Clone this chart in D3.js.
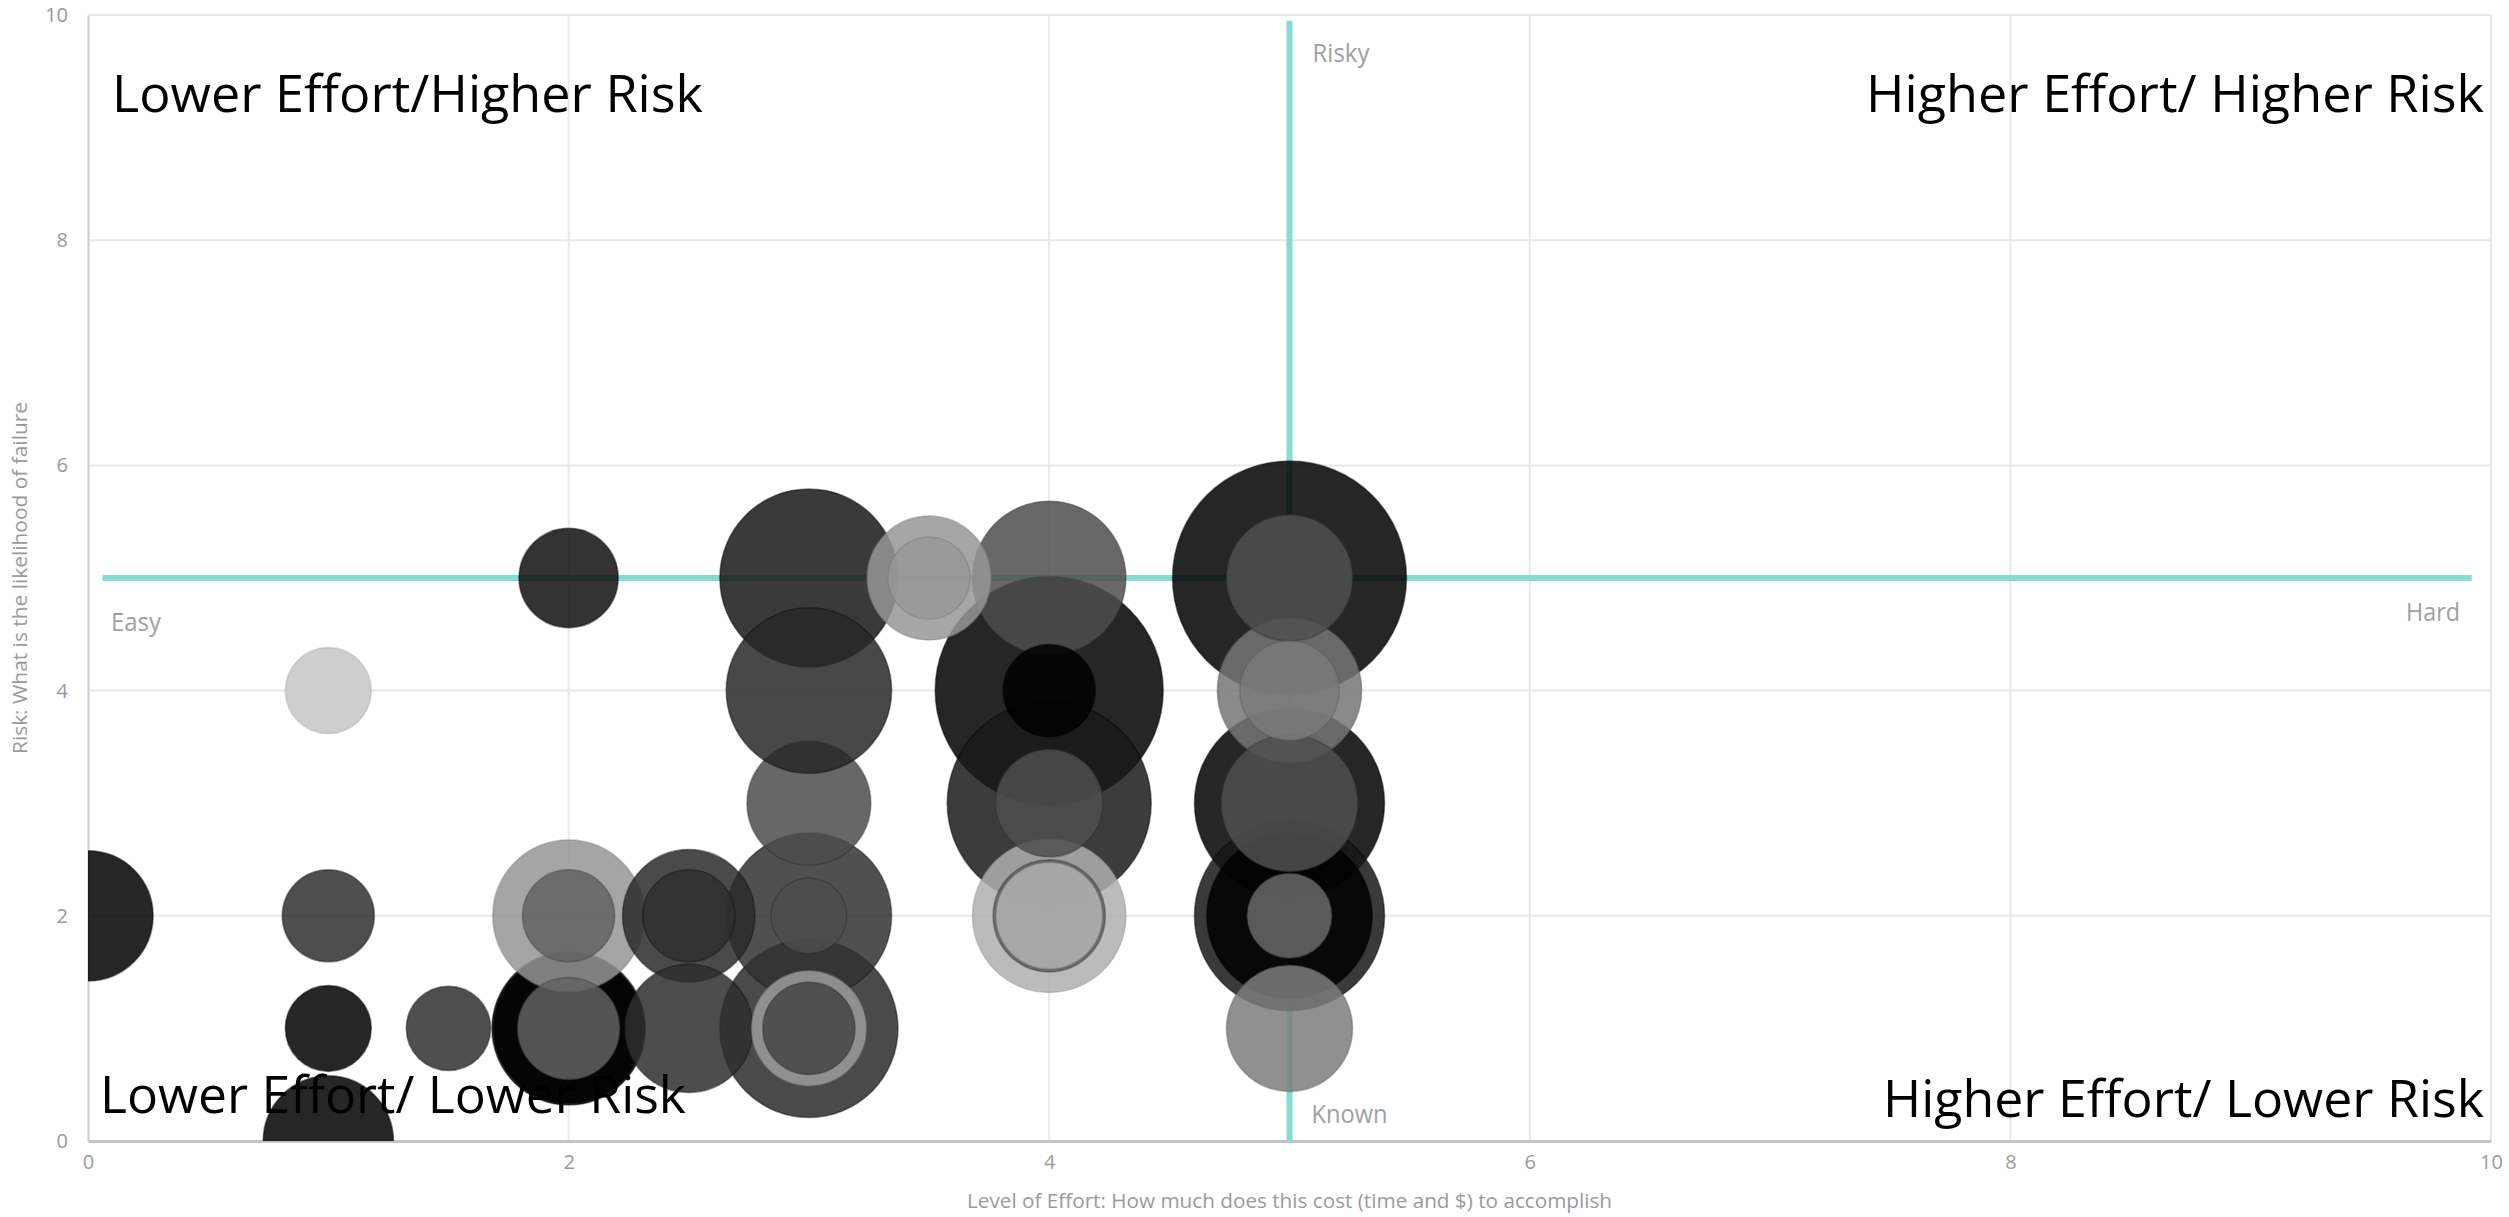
<!DOCTYPE html>
<html>
<head>
<meta charset="utf-8">
<script src="https://cdn.jsdelivr.net/npm/d3@7"></script>
<style>
  html, body { margin: 0; padding: 0; background: #ffffff; }
  svg { display: block; }
  text { font-family: "Open Sans", "Noto Sans", sans-serif; }
</style>
</head>
<body>
<svg id="chart" width="2509" height="1217"></svg>
<script>
// ---- data (draw order) ----
const effort = [5, 4, 4, 5, 5, 3, 3, 5, 3, 3, 3, 2, 2, 4, 4, 2, 5, 5, 2.5, 0, 1, 2.5, 5, 5, 3.5, 3, 4, 4, 4, 2, 2, 5, 3, 4, 2, 2.5, 1, 1, 1, 1.5, 5, 3.5, 3];
const risk   = [5, 4, 3, 3, 2, 5, 1, 2, 2, 3, 4, 1, 1, 5, 2, 2, 4, 3, 2,   2, 0, 1,   5, 1, 5,   1, 2, 3, 2, 1, 5, 4, 1, 4, 2, 2,   2, 1, 4, 1,   2, 5,   2];
const size   = [100, 95, 76, 66, 66, 58, 58, 50, 50, 28, 50, 43, 41, 43, 43, 42, 38, 34, 32, 31, 31, 30, 29, 29, 28, 24, 23, 21, 20.5, 19, 18, 18, 15.5, 15.5, 15.5, 15.5, 15.5, 13.5, 13.5, 13, 13, 12.3, 10.5];
const shade  = [0, 0, 26, 0, 23, 23, 42, 0, 49, 76, 40, 0, 0, 78, 175, 149, 117, 80, 42, 0, 0, 46, 80, 124, 150, 156, 92, 77, 179, 97, 15, 122, 69, 0, 97, 47, 47, 0, 198, 48, 104, 152, 76];

const xTicks = [0, 2, 4, 6, 8, 10];
const yTicks = [0, 2, 4, 6, 8, 10];
const effortLine = 5, riskLine = 5;
const quadrantLabels = ["Lower Effort/Higher Risk", "Higher Effort/ Higher Risk", "Lower Effort/ Lower Risk", "Higher Effort/ Lower Risk"];
const lineLabels = ["Risky", "Known", "Easy", "Hard"];
const xTitle = "Level of Effort: How much does this cost (time and $) to accomplish";
const yTitle = "Risk: What is the likelihood of failure";

// ---- layout ----
const W = 2509, H = 1217;
const margin = { left: 88, right: 18, top: 15, bottom: 76 };
const svg = d3.select("#chart");
const x = d3.scaleLinear().domain([0, 10]).range([margin.left, W - margin.right]);
const y = d3.scaleLinear().domain([0, 10]).range([H - margin.bottom, margin.top]);
const r = d3.scaleSqrt().domain([0, 100]).range([0, 117]);

svg.append("rect").attr("width", W).attr("height", H).attr("fill", "#fff");

// gridlines
const grid = svg.append("g");
grid.selectAll("line.v").data(xTicks.filter(d => d > 0)).join("line")
  .attr("x1", d => x(d)).attr("x2", d => x(d))
  .attr("y1", y(0)).attr("y2", y(10))
  .attr("stroke", "#e8e8e8").attr("stroke-width", 2);
grid.selectAll("line.h").data(yTicks.filter(d => d > 0)).join("line")
  .attr("x1", x(0)).attr("x2", x(10))
  .attr("y1", d => y(d)).attr("y2", d => y(d))
  .attr("stroke", "#e8e8e8").attr("stroke-width", 2);

// axes
const xAxis = svg.append("g").attr("transform", `translate(0,${y(0)})`)
  .call(d3.axisBottom(x).tickValues(xTicks).tickSize(0).tickPadding(14).tickFormat(d3.format("d")));
const yAxis = svg.append("g").attr("transform", `translate(${x(0)},0)`)
  .call(d3.axisLeft(y).tickValues(yTicks).tickSize(0).tickPadding(20).tickFormat(d3.format("d")));
[xAxis, yAxis].forEach(g => {
  g.selectAll("text").attr("font-size", 20).attr("fill", "#9a9a9a")
    .attr("font-family", "'Open Sans', sans-serif");
});
xAxis.select(".domain").attr("stroke", "#c4c4c4").attr("stroke-width", 3);
yAxis.select(".domain").attr("stroke", "#cccccc").attr("stroke-width", 2);

// constant lines
const teal = "#84ddd3";
svg.append("line")
  .attr("x1", x(0.06)).attr("x2", x(9.92))
  .attr("y1", y(riskLine)).attr("y2", y(riskLine))
  .attr("stroke", teal).attr("stroke-width", 6);
svg.append("line")
  .attr("x1", x(effortLine)).attr("x2", x(effortLine))
  .attr("y1", y(9.95)).attr("y2", y(0))
  .attr("stroke", teal).attr("stroke-width", 6);

// bubbles
svg.append("clipPath").attr("id", "plotClip").append("rect")
  .attr("x", x(0)).attr("y", y(10)).attr("width", x(10) - x(0)).attr("height", y(0) - y(10));
const pts = effort.map((e, i) => ({ e, k: risk[i], s: size[i], c: shade[i] }));
svg.append("g").attr("clip-path", "url(#plotClip)")
  .selectAll("circle").data(pts).join("circle")
  .attr("cx", d => x(d.e)).attr("cy", d => y(d.k)).attr("r", d => r(d.s))
  .attr("fill", d => d3.rgb(d.c, d.c, d.c).formatHex())
  .attr("fill-opacity", 0.85)
  .attr("stroke", d => { const v = Math.max(0, d.c - 30); return d3.rgb(v, v, v).formatHex(); })
  .attr("stroke-opacity", 0.45)
  .attr("stroke-width", 1.5);

// line labels
const lab = svg.append("g").attr("fill", "#a0a0a0").attr("font-size", 26);
lab.append("text").attr("x", x(effortLine) + 23).attr("y", 62)
  .attr("textLength", 57).attr("lengthAdjust", "spacingAndGlyphs").text(lineLabels[0]);
lab.append("text").attr("x", x(effortLine) + 22).attr("y", 1123)
  .attr("textLength", 76).attr("lengthAdjust", "spacingAndGlyphs").text(lineLabels[1]);
lab.append("text").attr("x", x(0) + 23).attr("y", y(riskLine) + 53)
  .attr("textLength", 50).attr("lengthAdjust", "spacingAndGlyphs").text(lineLabels[2]);
lab.append("text").attr("x", 2460).attr("y", y(riskLine) + 43).attr("text-anchor", "end")
  .attr("textLength", 54).attr("lengthAdjust", "spacingAndGlyphs").text(lineLabels[3]);

// quadrant labels
const q = svg.append("g").attr("fill", "#000").attr("font-size", 52);
q.append("text").attr("x", 112).attr("y", 112)
  .attr("textLength", 591).attr("lengthAdjust", "spacingAndGlyphs").text(quadrantLabels[0]);
q.append("text").attr("x", 2484).attr("y", 112).attr("text-anchor", "end")
  .attr("textLength", 618).attr("lengthAdjust", "spacingAndGlyphs").text(quadrantLabels[1]);
q.append("text").attr("x", 100).attr("y", 1113)
  .attr("textLength", 586).attr("lengthAdjust", "spacingAndGlyphs").text(quadrantLabels[2]);
q.append("text").attr("x", 2484).attr("y", 1117).attr("text-anchor", "end")
  .attr("textLength", 601).attr("lengthAdjust", "spacingAndGlyphs").text(quadrantLabels[3]);

// axis titles
svg.append("text").attr("x", (x(0) + x(10)) / 2).attr("y", 1208)
  .attr("text-anchor", "middle").attr("font-size", 20).attr("fill", "#9a9a9a")
  .attr("textLength", 645).attr("lengthAdjust", "spacingAndGlyphs").text(xTitle);
svg.append("text")
  .attr("transform", `translate(27,${(y(0) + y(10)) / 2}) rotate(-90)`)
  .attr("text-anchor", "middle").attr("font-size", 20).attr("fill", "#9a9a9a")
  .attr("textLength", 352).attr("lengthAdjust", "spacingAndGlyphs").text(yTitle);
</script>
</body>
</html>
